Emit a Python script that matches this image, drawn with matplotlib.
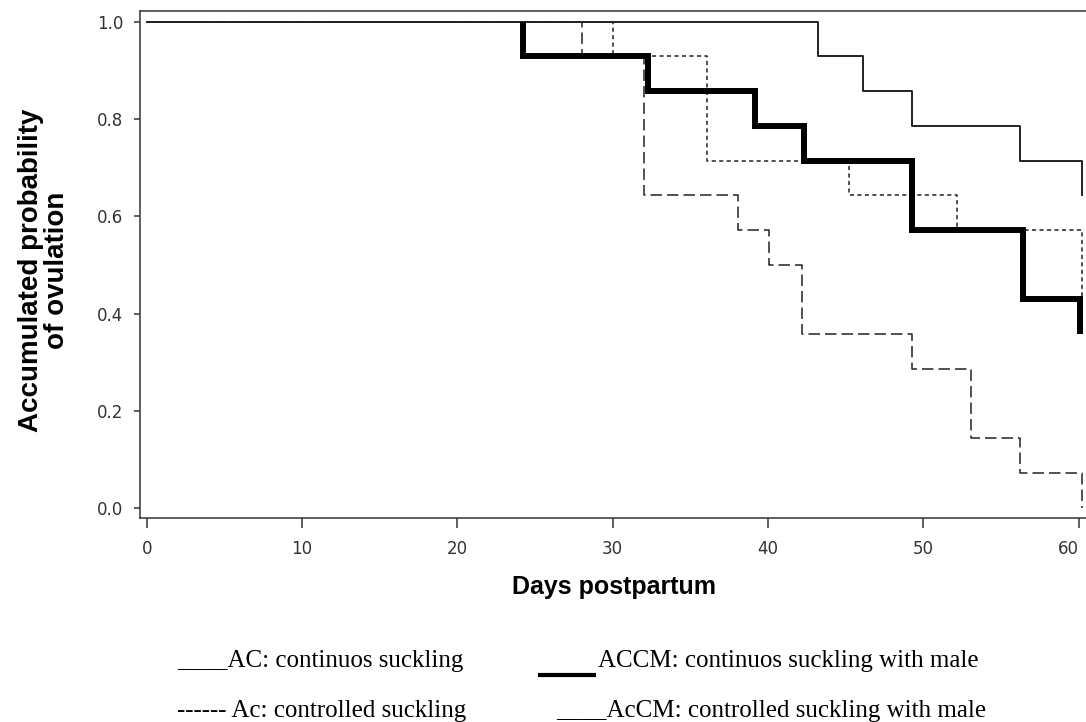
import numpy as np
import matplotlib.pyplot as plt
from matplotlib.lines import Line2D

# step curves (days postpartum, accumulated probability)
ac_days = [0, 43.2, 46.1, 49.3, 56.2, 60.2]
ac_prob = [1.0, 0.929, 0.857, 0.786, 0.714, 0.643]

accm_days = [0, 24.2, 32.3, 39.2, 42.3, 49.3, 56.4, 60.1]
accm_prob = [1.0, 0.929, 0.857, 0.786, 0.714, 0.571, 0.429, 0.357]

ac_ctrl_days = [0, 30.0, 36.1, 45.2, 52.2, 60.2]
ac_ctrl_prob = [1.0, 0.929, 0.714, 0.643, 0.571, 0.429]

accm_ctrl_days = [0, 28.0, 32.0, 38.1, 40.1, 42.2, 49.3, 53.1, 56.2, 60.2]
accm_ctrl_prob = [1.0, 0.929, 0.643, 0.571, 0.5, 0.357, 0.286, 0.143, 0.071, 0.0]

x_ticks = [0, 10, 20, 30, 40, 50, 60]
y_ticks = [0.0, 0.2, 0.4, 0.6, 0.8, 1.0]

legend_ac = "____AC: continuos suckling"
legend_ac_ctrl = "------ Ac: controlled suckling"
legend_accm = "ACCM: continuos suckling with male"
legend_accm_ctrl = "____AcCM: controlled suckling with male"


def step_path(days, prob):
    # vertices of a right-continuous step curve
    xs = np.repeat(days, 2)[1:]
    ys = np.repeat(prob, 2)[:-1]
    return xs, ys


def main():
    fig = plt.figure(figsize=(10.86, 7.22), dpi=100)
    ax = fig.add_axes([140 / 1086, 1 - 518 / 722, 946 / 1086, 507 / 722])

    ax.plot(*step_path(ac_ctrl_days, ac_ctrl_prob), color='#222222', lw=1.1,
            linestyle=(0, (2.7, 2.2)))
    ax.plot(*step_path(accm_ctrl_days, accm_ctrl_prob), color='#222222', lw=1.1,
            linestyle=(0, (7.5, 3.3)))
    # solid curve on top so the shared 1.0 stretch reads as one thin line
    ax.plot(*step_path(ac_days, ac_prob), color='#222222', lw=1.4)
    # thick curve only drawn from its first drop on, the 1.0 stretch stays thin
    xs, ys = step_path(accm_days, accm_prob)
    ax.plot(xs[1:], ys[1:], color='black', lw=4.3,
            solid_capstyle='butt', solid_joinstyle='miter')

    ax.set_xlim(-0.43, 60.48)
    ax.set_ylim(-0.0206, 1.0226)

    ax.set_xticks(x_ticks)
    ax.set_xticklabels([str(t) for t in x_ticks])
    ax.set_yticks(y_ticks)
    ax.set_yticklabels([f"{t:.1f}" for t in y_ticks])
    ax.get_xticklabels()[-1].set_horizontalalignment('right')

    ax.tick_params(axis='x', direction='out', length=7, width=1.1, pad=9,
                   labelsize=12, colors='#333333')
    ax.tick_params(axis='y', direction='out', length=4, width=1.1, pad=8,
                   labelsize=12, colors='#333333')

    ax.spines['right'].set_visible(False)
    for side in ['left', 'top', 'bottom']:
        ax.spines[side].set_color('#333333')
        ax.spines[side].set_linewidth(1.1)

    fig.text(44 / 1086, 1 - 270 / 722, "Accumulated probability\nof ovulation",
             rotation=90, ha='center', va='center', multialignment='center',
             fontsize=20, fontweight='bold', family='Liberation Sans', linespacing=1.0)
    fig.text(614 / 1086, 1 - 587 / 722, "Days postpartum", ha='center', va='center',
             fontsize=18, fontweight='bold', family='Liberation Sans')

    # legend written out as text lines below the plot, as in the original
    serif = dict(family='Liberation Serif', fontsize=18, va='center', ha='left')
    fig.text(177 / 1086, 1 - 661 / 722, legend_ac, **serif)
    fig.text(177 / 1086, 1 - 711 / 722, legend_ac_ctrl, **serif)
    fig.text(598 / 1086, 1 - 661 / 722, legend_accm, **serif)
    fig.text(556 / 1086, 1 - 711 / 722, legend_accm_ctrl, **serif)
    fig.add_artist(Line2D([538 / 1086, 596 / 1086], [1 - 675 / 722, 1 - 675 / 722],
                          transform=fig.transFigure, color='black', lw=3,
                          solid_capstyle='butt'))

    fig.savefig("out.png", dpi=100)
    plt.close(fig)


if __name__ == "__main__":
    main()
